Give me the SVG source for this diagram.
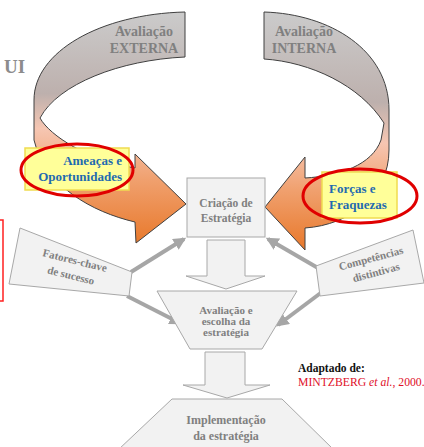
<svg xmlns="http://www.w3.org/2000/svg" width="424" height="447" viewBox="0 0 424 447">
<defs>
<linearGradient id="gL" gradientUnits="userSpaceOnUse" x1="0" y1="12" x2="0" y2="245">
<stop offset="0" stop-color="#cbcbcb"/>
<stop offset="0.35" stop-color="#bdb0ad"/>
<stop offset="0.5" stop-color="#f6c6b2"/>
<stop offset="0.72" stop-color="#f0a06e"/>
<stop offset="1" stop-color="#e8782a"/>
</linearGradient>
<linearGradient id="gR" gradientUnits="userSpaceOnUse" x1="0" y1="12" x2="0" y2="250">
<stop offset="0" stop-color="#cbcbcb"/>
<stop offset="0.38" stop-color="#bdb0ad"/>
<stop offset="0.55" stop-color="#f6c6b2"/>
<stop offset="0.75" stop-color="#f0a06e"/>
<stop offset="1" stop-color="#e8782a"/>
</linearGradient>
<marker id="ah" viewBox="0 0 10 10" refX="8" refY="5" markerWidth="3.2" markerHeight="3.2" orient="auto" markerUnits="strokeWidth">
<path d="M0,0 L10,5 L0,10 Z" fill="#a6a6a6"/>
</marker>
<style>
text{font-family:'Liberation Serif','Times New Roman','DejaVu Serif',serif}
.big{fill:#f2f2f2;stroke:#a8a8a8;stroke-width:1}
.gtxt{font-weight:bold;fill:#808080;text-anchor:middle}
.btxt{font-weight:bold;fill:#1f6bb0;font-size:13px}
.ybox{fill:#ffff99;stroke:#f0dc50;stroke-width:1.5}
.oval{fill:none;stroke:#e00000;stroke-width:3}
.con{stroke:#a6a6a6;stroke-width:4;fill:none}
.curve{stroke:#404040;stroke-width:1}
</style>
</defs>
<rect width="424" height="447" fill="#ffffff"/>

<text x="4" y="73" font-weight="bold" font-size="19" fill="#8c8c8c">UI</text>
<path d="M-2 220 L3 220 L3 301 L-2 301" fill="none" stroke="#ff2020" stroke-width="1.5"/>

<g id="arrow-externa">
<path class="curve" fill="url(#gL)" d="M185 12 L185 57 C120 60 58 84 40 118 C50 136 88 160 135 168 L135 154 L186 204 L136 243 L135 222 C92 212 45 186 34 140 L34 100 C34 52 100 14 185 12 Z"/>
<text class="gtxt" x="144" y="36" font-size="14">Avaliação</text>
<text class="gtxt" x="144" y="53" font-size="14">EXTERNA</text>
</g>
<g id="arrow-interna">
<path class="curve" fill="url(#gR)" d="M264 12 C330 14 389 50 389 110 L389 150 C389 195 350 225 305 228 L305 250 L265 207 L305 157 L305 178 C340 176 372 165 381 140 L384 123 C360 85 310 62 264 59 Z"/>
<text class="gtxt" x="304" y="36" font-size="14">Avaliação</text>
<text class="gtxt" x="304" y="53" font-size="14">INTERNA</text>
</g>

<g id="ameacas">
<rect class="ybox" x="25" y="148" width="104" height="42"/>
<text class="btxt" x="122" y="165" text-anchor="end">Ameaças e</text>
<text class="btxt" x="122" y="181" text-anchor="end">Oportunidades</text>
<ellipse class="oval" cx="77" cy="170" rx="56" ry="26"/>
</g>
<g id="forcas">
<rect class="ybox" x="322" y="172" width="75" height="46"/>
<text class="btxt" x="329" y="193">Forças e</text>
<text class="btxt" x="329" y="209">Fraquezas</text>
<ellipse class="oval" cx="360" cy="196" rx="57" ry="27"/>
</g>

<g id="connectors">
<line class="con" x1="131" y1="272" x2="184" y2="239" marker-end="url(#ah)"/>
<line class="con" x1="127" y1="296" x2="180" y2="323" marker-end="url(#ah)"/>
<line class="con" x1="318" y1="268" x2="268" y2="239" marker-end="url(#ah)"/>
<line class="con" x1="322" y1="292" x2="278" y2="325" marker-end="url(#ah)"/>
</g>

<g id="criacao">
<rect class="big" x="187" y="178" width="78" height="59"/>
<text class="gtxt" x="226" y="207" font-size="11.5">Criação de</text>
<text class="gtxt" x="226" y="222" font-size="11.5">Estratégia</text>
</g>
<g id="seta1">
<path class="big" d="M207 240 L245 240 L245 276 L265 276 L226 289 L186 276 L207 276 Z"/>
</g>
<g id="fatores">
<path class="big" d="M20 228 L132 272 L129 296 L9 284 Z"/>
<text class="gtxt" font-size="11" transform="translate(74 264) rotate(14)">Fatores-chave</text>
<text class="gtxt" font-size="11" transform="translate(70 279) rotate(14)">de sucesso</text>
</g>
<g id="competencias">
<path class="big" d="M316 266 L413 230 L424 283 L320 296 Z"/>
<text class="gtxt" font-size="11" transform="translate(372 262) rotate(-15)">Competências</text>
<text class="gtxt" font-size="11" transform="translate(377 276) rotate(-15)">distintivas</text>
</g>
<g id="avaliacao">
<path class="big" d="M157 291 L297 291 L262 349 L190 349 Z"/>
<text class="gtxt" x="226" y="314" font-size="11">Avaliação e</text>
<text class="gtxt" x="226" y="325" font-size="11">escolha da</text>
<text class="gtxt" x="226" y="336" font-size="11">estratégia</text>
</g>
<g id="seta2">
<path class="big" d="M205 352 L245 352 L245 385 L270 385 L227 398 L183 385 L205 385 Z"/>
</g>
<g id="implementacao">
<path class="big" d="M172 399 L282 399 L334 450 L118 450 Z"/>
<text class="gtxt" x="226" y="424" font-size="12">Implementação</text>
<text class="gtxt" x="226" y="440" font-size="12">da estratégia</text>
</g>

<text x="298" y="372" font-weight="bold" font-size="11.5" fill="#111">Adaptado de:</text>
<text x="298" y="386" font-size="11.7" fill="#e0102a">MINTZBERG <tspan font-style="italic">et al.</tspan>, 2000.</text>
</svg>
